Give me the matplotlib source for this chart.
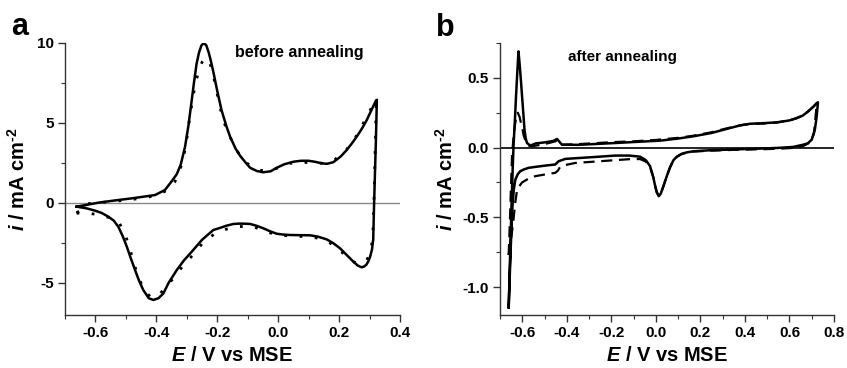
import matplotlib
matplotlib.use('Agg')
import matplotlib.pyplot as plt
from matplotlib.ticker import MultipleLocator

# ---- panel a : before annealing (solid + dotted), loops start at the cathodic tip
a_solid_E = [-0.662, -0.63, -0.591, -0.54, -0.481, -0.44, -0.404, -0.372, -0.35, -0.333,
             -0.32, -0.306, -0.295, -0.284, -0.276, -0.268, -0.26, -0.252, -0.244, -0.236,
             -0.228, -0.22, -0.213, -0.2, -0.186, -0.17, -0.158, -0.14, -0.125, -0.108,
             -0.092, -0.07, -0.049, -0.025, -0.005, 0.02, 0.05, 0.075, 0.099, 0.12,
             0.143, 0.16, 0.181, 0.205, 0.225, 0.243, 0.258, 0.275, 0.291, 0.306, 0.321, 0.324,
             0.321, 0.318, 0.315, 0.312, 0.308, 0.302, 0.296, 0.289, 0.282, 0.274,
             0.262, 0.247, 0.225, 0.203, 0.18, 0.159, 0.13, 0.105, 0.07, 0.039,
             0.015, -0.005, -0.025, -0.049, -0.07, -0.092, -0.114, -0.13, -0.147, -0.17,
             -0.19, -0.213, -0.229, -0.25, -0.279, -0.31, -0.333, -0.36, -0.377, -0.393,
             -0.41, -0.425, -0.443, -0.457, -0.47, -0.484, -0.497, -0.511, -0.525, -0.54,
             -0.558, -0.58, -0.601, -0.63, -0.662]
a_solid_i = [-0.23, -0.12, 0.02, 0.15, 0.29, 0.4, 0.5, 0.81, 1.35, 1.8,
             2.4, 3.5, 4.8, 6.4, 7.6, 8.7, 9.4, 9.85, 10.0, 9.85,
             9.4, 8.8, 8.2, 7.0, 5.8, 4.8, 4.15, 3.4, 2.95, 2.55,
             2.2, 2.0, 1.92, 1.98, 2.2, 2.42, 2.58, 2.64, 2.64, 2.58,
             2.48, 2.45, 2.55, 2.9, 3.31, 3.75, 4.15, 4.65, 5.19, 5.8, 6.4, 6.45,
             4.0, 2.0, 0.0, -2.3, -2.9, -3.35, -3.65, -3.87, -3.97, -4.02,
             -3.92, -3.67, -3.25, -2.83, -2.5, -2.27, -2.1, -2.02, -2.01, -2.0,
             -1.97, -1.92, -1.78, -1.58, -1.43, -1.31, -1.29, -1.29, -1.31, -1.42,
             -1.55, -1.69, -1.95, -2.3, -2.94, -3.6, -4.19, -5.0, -5.65, -5.95,
             -6.06, -5.95, -5.44, -4.85, -4.19, -3.45, -2.73, -2.05, -1.48, -1.1,
             -0.85, -0.62, -0.48, -0.33, -0.23]

a_dot_E = [-0.662, -0.645, -0.63, -0.6, -0.54, -0.48, -0.43, -0.39, -0.36, -0.34,
           -0.325, -0.31, -0.3, -0.29, -0.28, -0.27, -0.26, -0.25, -0.24, -0.23,
           -0.22, -0.21, -0.2, -0.19, -0.175, -0.16, -0.14, -0.12, -0.1, -0.08,
           -0.06, -0.04, -0.02, 0.0, 0.039, 0.077, 0.11, 0.15, 0.187, 0.225,
           0.252, 0.274, 0.293, 0.315, 0.322,
           0.318, 0.315, 0.312, 0.308, 0.3, 0.29, 0.275, 0.258, 0.24, 0.22,
           0.195, 0.17, 0.145, 0.12, 0.09, 0.06, 0.03, 0.0, -0.03, -0.06,
           -0.092, -0.131, -0.169, -0.207, -0.247, -0.279, -0.311, -0.34, -0.37, -0.39,
           -0.404, -0.42, -0.44, -0.455, -0.47, -0.485, -0.5, -0.52, -0.545, -0.6,
           -0.645, -0.662]
a_dot_i = [-0.6, -0.45, -0.05, 0.0, 0.1, 0.22, 0.35, 0.55, 0.85, 1.3,
           1.9, 2.9, 4.0, 5.4, 6.6, 7.6, 8.3, 8.8, 9.05, 9.0,
           8.5, 7.7, 6.8, 5.9, 4.9, 4.2, 3.4, 2.85, 2.45, 2.2,
           2.05, 2.0, 2.05, 2.2, 2.48, 2.54, 2.52, 2.48, 2.73, 3.35,
           4.04, 4.77, 5.5, 6.23, 6.35,
           3.0, 0.5, -1.5, -2.5, -3.2, -3.6, -3.75, -3.77, -3.6, -3.25,
           -2.85, -2.5, -2.3, -2.15, -2.1, -2.08, -2.05, -2.0, -1.85, -1.62,
           -1.44, -1.48, -1.63, -1.9, -2.48, -3.23, -3.88, -4.6, -5.3, -5.7,
           -5.9, -5.85, -5.45, -4.8, -4.0, -3.0, -2.1, -1.3, -0.95, -0.7,
           -0.6, -0.65]

# ---- panel b : after annealing (solid + dashed)
b_solid_E = [-0.661, -0.655, -0.648, -0.643, -0.639, -0.633, -0.628, -0.622, -0.617, -0.612,
             -0.606, -0.601, -0.595, -0.59, -0.585, -0.579, -0.564, -0.54, -0.497, -0.46,
             -0.444, -0.435, -0.422, -0.347, -0.183, -0.1, 0.019, 0.1, 0.168, 0.25,
             0.318, 0.38, 0.423, 0.48, 0.543, 0.6, 0.632, 0.66, 0.684, 0.705, 0.722, 0.728,
             0.722, 0.714, 0.7, 0.682, 0.662, 0.617, 0.55, 0.468, 0.35, 0.243,
             0.17, 0.139, 0.115, 0.094, 0.079, 0.064, 0.05, 0.034, 0.022, 0.013,
             0.004, -0.003, -0.012, -0.026, -0.045, -0.071, -0.12, -0.183, -0.272, -0.35,
             -0.407, -0.437, -0.452, -0.497, -0.54, -0.572, -0.595, -0.609, -0.62, -0.631,
             -0.638, -0.646, -0.654, -0.661]
b_solid_i = [-1.145, -0.8, -0.4, -0.15, 0.02, 0.2, 0.37, 0.55, 0.69, 0.6,
             0.48, 0.37, 0.24, 0.13, 0.07, 0.034, 0.014, 0.03, 0.038, 0.048,
             0.062, 0.045, 0.021, 0.02, 0.033, 0.04, 0.05, 0.065, 0.081, 0.105,
             0.134, 0.16, 0.171, 0.175, 0.181, 0.195, 0.212, 0.23, 0.26, 0.29, 0.319, 0.325,
             0.22, 0.129, 0.057, 0.03, 0.021, 0.005, -0.002, -0.007, -0.013, -0.019,
             -0.026, -0.034, -0.045, -0.065, -0.09, -0.14, -0.2, -0.276, -0.33, -0.348,
             -0.32, -0.276, -0.21, -0.133, -0.09, -0.065, -0.057, -0.057, -0.067, -0.075,
             -0.081, -0.098, -0.121, -0.129, -0.138, -0.145, -0.158, -0.169, -0.19, -0.229,
             -0.3, -0.467, -0.82, -1.145]

b_dash_E = [-0.661, -0.655, -0.65, -0.646, -0.64, -0.635, -0.628, -0.62, -0.612, -0.605,
            -0.601, -0.594, -0.588, -0.573, -0.555, -0.5, -0.452, -0.445, -0.43, -0.35,
            -0.183, -0.1, 0.0, 0.1, 0.168, 0.25, 0.318, 0.38, 0.423, 0.48,
            0.543, 0.6, 0.632, 0.66, 0.684, 0.705, 0.722,
            0.716, 0.71, 0.695, 0.66, 0.617, 0.55, 0.468, 0.35, 0.243, 0.17,
            0.139, 0.115, 0.094, 0.079, 0.064, 0.05, 0.034, 0.022, 0.013, 0.004,
            -0.003, -0.012, -0.026, -0.045, -0.071, -0.12, -0.183, -0.272, -0.362, -0.407,
            -0.43, -0.44, -0.452, -0.5, -0.542, -0.575, -0.601, -0.615, -0.624, -0.632,
            -0.639, -0.648, -0.661]
b_dash_i = [-0.77, -0.5, -0.25, -0.06, 0.06, 0.14, 0.21, 0.25, 0.22, 0.17,
            0.15, 0.09, 0.06, 0.014, 0.01, 0.025, 0.045, 0.05, 0.02, 0.025,
            0.04, 0.045, 0.055, 0.07, 0.085, 0.11, 0.138, 0.16, 0.17, 0.172,
            0.18, 0.195, 0.21, 0.23, 0.26, 0.29, 0.31,
            0.2, 0.1, 0.04, 0.01, -0.002, -0.008, -0.012, -0.016, -0.022, -0.028,
            -0.036, -0.047, -0.067, -0.092, -0.14, -0.2, -0.276, -0.33, -0.345, -0.32,
            -0.276, -0.21, -0.14, -0.1, -0.082, -0.083, -0.09, -0.1, -0.11, -0.125,
            -0.138, -0.165, -0.181, -0.193, -0.205, -0.225, -0.25, -0.28, -0.31, -0.4,
            -0.51, -0.63, -0.77]

plt.rcParams['font.family'] = 'Liberation Sans'
plt.rcParams['font.weight'] = 'bold'
plt.rcParams['axes.labelweight'] = 'bold'
plt.rcParams['axes.unicode_minus'] = False
plt.rcParams['mathtext.fontset'] = 'custom'
plt.rcParams['mathtext.rm'] = 'Liberation Sans:bold'
plt.rcParams['mathtext.it'] = 'Liberation Sans:italic:bold'

fig = plt.figure(figsize=(8.47, 3.68), dpi=100)
ax1 = fig.add_axes([65/847, 53/368, 335/847, 272/368])
ax2 = fig.add_axes([500/847, 53/368, 334/847, 272/368])


def style(ax):
    for s in ['top', 'right']:
        ax.spines[s].set_visible(False)
    for s in ['left', 'bottom']:
        ax.spines[s].set_color('#333333')
        ax.spines[s].set_linewidth(1.0)
    ax.tick_params(which='major', direction='out', length=5, width=1.0,
                   color='#333333', labelsize=11, pad=3)
    ax.tick_params(which='minor', direction='out', length=3, width=0.8, color='#333333')
    ax.set_xlabel(r'$E$ / V vs MSE', fontsize=14.5, fontweight='bold', labelpad=4)
    ax.set_ylabel(r'$i$ / mA cm$^{\text{-2}}$', fontsize=14.5, fontweight='bold')


# panel a
ax1.axhline(0, color='#888888', lw=1.0, zorder=1)
ax1.plot(a_solid_E, a_solid_i, color='black', lw=1.8, solid_joinstyle='round', zorder=3)
ax1.plot(a_dot_E, a_dot_i, color='black', lw=2.0, linestyle=(0, (1, 4.5)),
         dash_capstyle='butt', zorder=2)
ax1.set_xlim(-0.7, 0.4)
ax1.set_ylim(-7, 10)
ax1.xaxis.set_minor_locator(MultipleLocator(0.1))
ax1.yaxis.set_minor_locator(MultipleLocator(2.5))
ax1.set_xticks([-0.6, -0.4, -0.2, 0.0, 0.2, 0.4])
ax1.set_xticklabels(['-0.6', '-0.4', '-0.2', '0.0', '0.2', '0.4'])
ax1.set_yticks([-5, 0, 5, 10])
ax1.set_yticklabels(['-5', '0', '5', '10'])
style(ax1)
ax1.yaxis.labelpad = 6
ax1.text(-0.142, 9.4, 'before annealing', fontsize=11.5, fontweight='bold', va='center')

# panel b
ax2.axhline(0, color='black', lw=1.2, zorder=1)
ax2.plot(b_solid_E, b_solid_i, color='black', lw=1.8, solid_joinstyle='round', zorder=3)
ax2.plot(b_dash_E, b_dash_i, color='black', lw=1.6, linestyle=(0, (5, 3)), zorder=2)
ax2.set_xlim(-0.7, 0.8)
ax2.set_ylim(-1.2, 0.75)
ax2.xaxis.set_minor_locator(MultipleLocator(0.1))
ax2.yaxis.set_minor_locator(MultipleLocator(0.25))
ax2.set_xticks([-0.6, -0.4, -0.2, 0.0, 0.2, 0.4, 0.6, 0.8])
ax2.set_xticklabels(['-0.6', '-0.4', '-0.2', '0.0', '0.2', '0.4', '0.6', '0.8'])
ax2.set_yticks([-1.0, -0.5, 0.0, 0.5])
ax2.set_yticklabels(['-1.0', '-0.5', '0.0', '0.5'])
style(ax2)
ax2.yaxis.labelpad = 4
ax2.text(-0.395, 0.65, 'after annealing', fontsize=11, fontweight='bold', va='center')

fig.text(11/847, 1 - 35/368, 'a', fontsize=22, fontweight='bold', va='baseline')
fig.text(436/847, 1 - 36/368, 'b', fontsize=22, fontweight='bold', va='baseline')

fig.savefig('out.png', dpi=100)
